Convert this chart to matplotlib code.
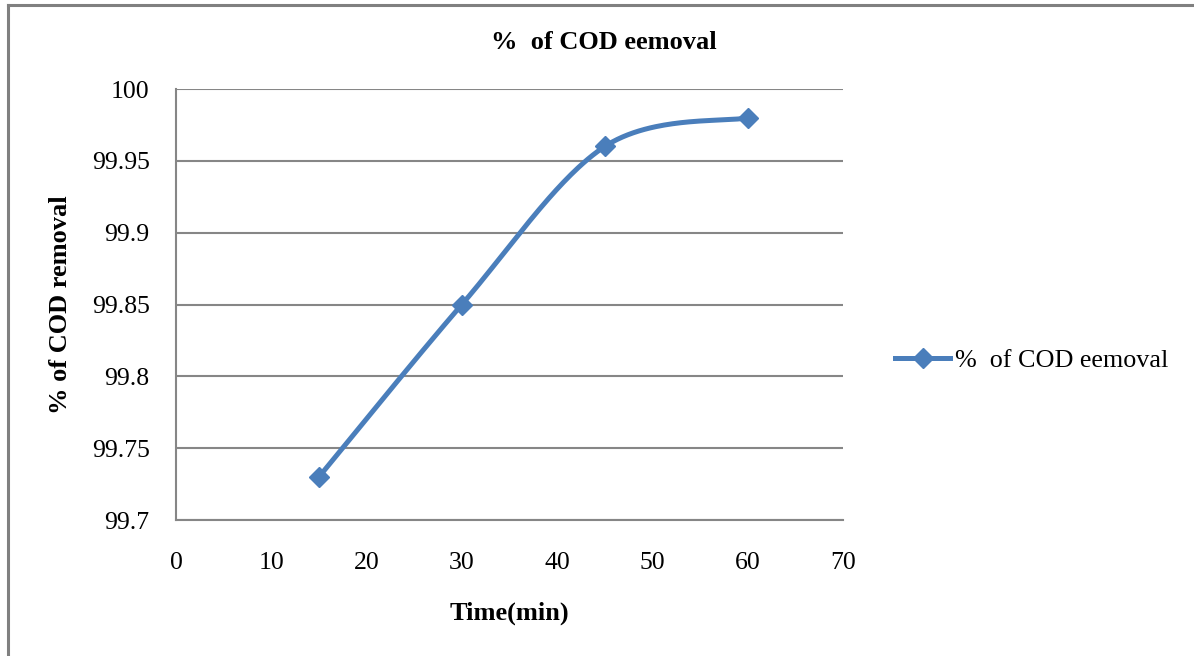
import numpy as np
import matplotlib.pyplot as plt
from matplotlib.lines import Line2D

time_min = [15, 30, 45, 60]
cod_removal = [99.73, 99.85, 99.96, 99.98]
series_name = '%  of COD eemoval'

plt.rcParams['font.family'] = ['Liberation Serif', 'DejaVu Serif']


def smooth(xs, ys, n=60):
    # Bezier segments with Catmull-Rom style control points
    x = np.asarray(xs, float)
    y = np.asarray(ys, float)
    px = np.concatenate([[x[0]], x, [x[-1]]])
    py = np.concatenate([[y[0]], y, [y[-1]]])
    out_x, out_y = [], []
    t = np.linspace(0, 1, n)
    for i in range(len(x) - 1):
        p0 = np.array([px[i + 1], py[i + 1]])
        p3 = np.array([px[i + 2], py[i + 2]])
        c1 = p0 + (np.array([px[i + 2], py[i + 2]]) - np.array([px[i], py[i]])) / 6
        c2 = p3 - (np.array([px[i + 3], py[i + 3]]) - np.array([px[i + 1], py[i + 1]])) / 6
        b = ((1 - t) ** 3)[:, None] * p0 + (3 * (1 - t) ** 2 * t)[:, None] * c1 \
            + (3 * (1 - t) * t ** 2)[:, None] * c2 + (t ** 3)[:, None] * p3
        out_x.extend(b[:, 0])
        out_y.extend(b[:, 1])
    return out_x, out_y


blue = '#4A7EBB'
grid = '#868686'

fig = plt.figure(figsize=(11.94, 6.56), dpi=100)
ax = fig.add_axes([0.1474, 0.2073, 0.5586, 0.657])

sx, sy = smooth(time_min, cod_removal)
ax.plot(sx, sy, color=blue, lw=3.6, solid_capstyle='round', zorder=3)
ax.plot(time_min, cod_removal, ls='none', marker='D', ms=10, color=blue, zorder=4)

ax.set_xlim(0, 70)
ax.set_ylim(99.7, 100)
ax.set_xticks(range(0, 71, 10))
ax.set_yticks([99.7, 99.75, 99.8, 99.85, 99.9, 99.95, 100])
ax.set_yticklabels(['99.7', '99.75', '99.8', '99.85', '99.9', '99.95', '100'])
ax.tick_params(labelsize=18.5, length=0)
ax.tick_params(axis='y', pad=19)
ax.tick_params(axis='x', pad=23)
ax.yaxis.grid(True, color=grid, lw=1.5)
ax.set_axisbelow(True)
for side in ['top', 'right']:
    ax.spines[side].set_visible(False)
for side in ['left', 'bottom']:
    ax.spines[side].set_color(grid)
    ax.spines[side].set_linewidth(1.5)

fig.text(0.506, 0.935, series_name, fontsize=19, fontweight='bold',
         ha='center', va='center')
ax.set_xlabel('Time(min)', fontsize=19, fontweight='bold', labelpad=20)
ax.set_ylabel('% of COD removal', fontsize=19, fontweight='bold', labelpad=14)

handle = Line2D([], [], color=blue, lw=3.6, marker='D', ms=10)
fig.legend([handle], [series_name], loc='center left',
           bbox_to_anchor=(0.73, 0.45), frameon=False, fontsize=18.8,
           handlelength=2.1, handletextpad=0.2)

# outer frame, top and left edges
fig.add_artist(Line2D([0.0067, 1.0], [0.992, 0.992], color='#808080', lw=2.2))
fig.add_artist(Line2D([0.0067, 0.0067], [0.0, 0.992], color='#808080', lw=2.2))

fig.savefig('out.png', dpi=100)
